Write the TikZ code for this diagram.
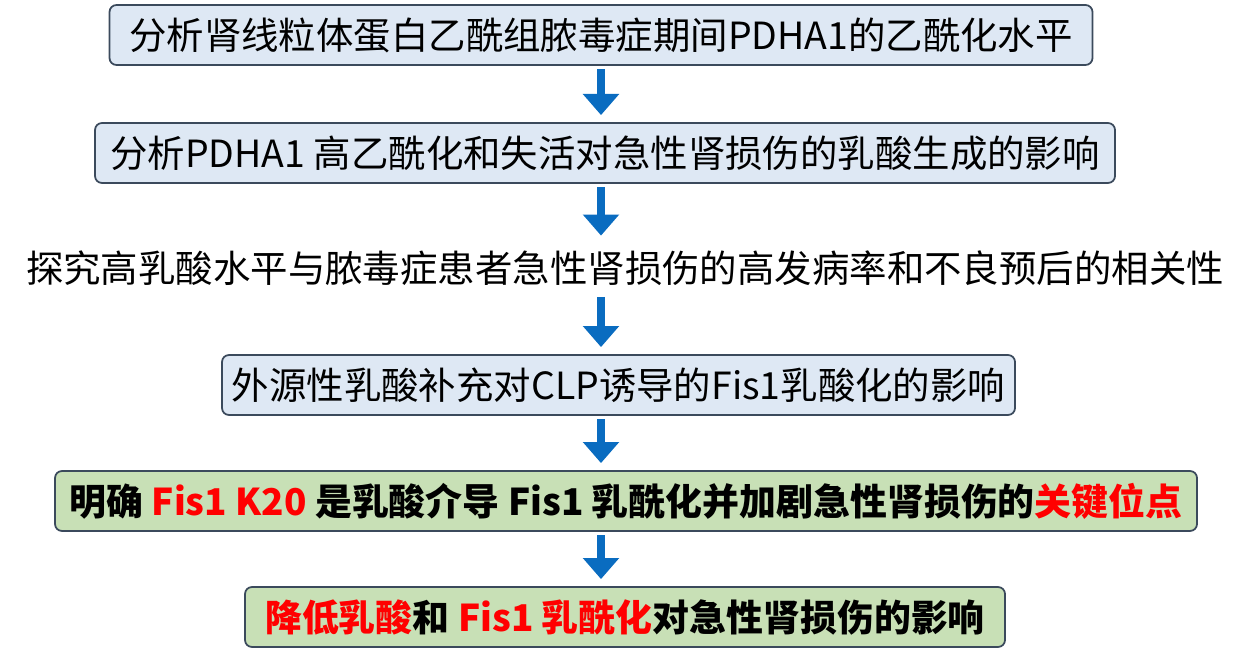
\documentclass[tikz,border=0pt]{standalone}
\usepackage{fontspec}
\setmainfont{Noto Sans CJK SC}
\usetikzlibrary{arrows.meta}
\definecolor{boxblue}{HTML}{DEE8F4}
\definecolor{boxgreen}{HTML}{C8E0B6}
\definecolor{boxline}{HTML}{3B4A5C}
\definecolor{arrowblue}{HTML}{0A6CC0}
\tikzset{
  stepblue/.style={draw=boxline,line width=1pt,fill=boxblue,rounded corners=4pt,minimum height=1.2cm,inner sep=0pt,font=\fontsize{21.3}{23}\selectfont},
  stepgreen/.style={stepblue,fill=boxgreen,font=\fontsize{21}{23}\selectfont\bfseries},
  flow/.style={arrowblue,line width=4.5pt,-{Triangle[length=12pt,width=20pt]},shorten <=2pt,shorten >=4pt}
}
\begin{document}
\begin{tikzpicture}

\useasboundingbox (0,0) rectangle (25,13.22);

\node [stepblue,minimum width=19.66cm] (a) at (12.02,12.52) {分析肾线粒体蛋白乙酰组脓毒症期间PDHA1的乙酰化水平};
\node [stepblue,minimum width=20.4cm] (b) at (12.10,10.16) {分析PDHA1 高乙酰化和失活对急性肾损伤的乳酸生成的影响};
\node [font=\fontsize{21.3}{23}\selectfont,minimum height=1.2cm,inner sep=0pt] (c) at (12.5,7.86) {探究高乳酸水平与脓毒症患者急性肾损伤的高发病率和不良预后的相关性};
\node [stepblue,minimum width=15.86cm] (d) at (12.37,5.52) {外源性乳酸补充对CLP诱导的Fis1乳酸化的影响};
\node [stepgreen,minimum width=22.84cm] (e) at (12.52,3.2) {明确 \textcolor{red}{Fis1 K20} 是乳酸介导 Fis1 乳酰化并加剧急性肾损伤的\textcolor{red}{关键位点}};
\node [stepgreen,minimum width=15.2cm] (f) at (12.50,0.88) {\textcolor{red}{降低乳酸}和 \textcolor{red}{Fis1 乳酰化}对急性肾损伤的影响};

\draw [flow] (a.south -| 12.02,0) -- (b.north -| 12.02,0);
\draw [flow] (b.south -| 12.02,0) -- ([yshift=-0.1cm]c.north -| 12.02,0);
\draw [flow] ([yshift=0.1cm]c.south -| 12.02,0) -- (d.north -| 12.02,0);
\draw [flow] (d.south -| 12.02,0) -- (e.north -| 12.02,0);
\draw [flow] (e.south -| 12.02,0) -- (f.north -| 12.02,0);

\end{tikzpicture}
\end{document}
